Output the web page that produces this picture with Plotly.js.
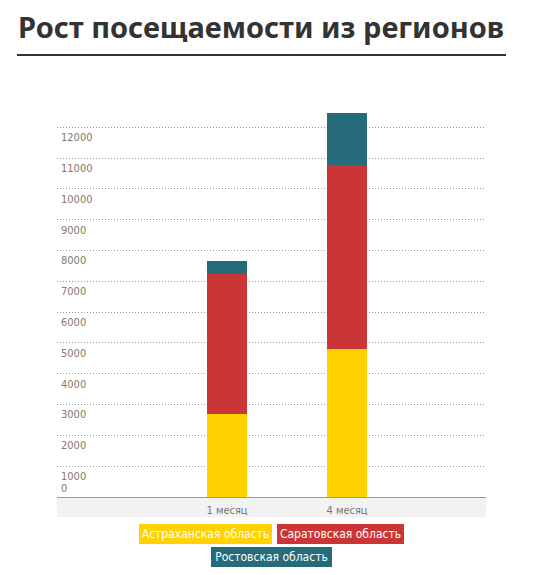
<!DOCTYPE html>
<html>
<head>
<meta charset="utf-8">
<script src="https://cdn.plot.ly/plotly-3.0.1.min.js"></script>
<style>html,body{margin:0;padding:0;background:#fff;}</style>
</head>
<body>
<div id="chart" style="width:544px;height:575px;"></div>
<script>
const categories = ["1 месяц", "4 месяц"];
const seriesNames = ["Астраханская область", "Саратовская область", "Ростовская область"];
const astrakhan = [2700, 4810];
const saratov = [4530, 5970];
const rostov = [430, 1690];
const yTicks = [1000, 2000, 3000, 4000, 5000, 6000, 7000, 8000, 9000, 10000, 11000, 12000];
const titleText = "Рост посещаемости из регионов";

const colors = ["#FFD200", "#CC3535", "#266B7A"];
const values = [astrakhan, saratov, rostov];

const traces = values.map((v, i) => ({
  type: "bar",
  x: categories,
  y: v,
  name: seriesNames[i],
  marker: {color: colors[i]},
  hoverinfo: "none"
}));

const font = "'DejaVu Sans Condensed', 'Liberation Sans Narrow', sans-serif";
const legendPos = [
  {x: 0.347, y: -0.0932, w: 133},
  {x: 0.660, y: -0.0932, w: 127},
  {x: 0.5003, y: -0.150, w: 121}
];
const annotations = seriesNames.map((n, i) => ({
  xref: "paper", yref: "paper",
  x: legendPos[i].x, y: legendPos[i].y,
  xanchor: "center", yanchor: "middle",
  text: n, showarrow: false,
  bgcolor: colors[i], borderpad: 0, borderwidth: 0,
  width: legendPos[i].w, height: 20,
  font: {family: font, size: 12, color: "#fff"}
}));

const layout = {
  width: 544, height: 575,
  margin: {l: 57, r: 58, t: 100, b: 78},
  paper_bgcolor: "#fff", plot_bgcolor: "#fff",
  barmode: "stack",
  bargap: 0.667,
  showlegend: false,
  title: {
    text: "<b>" + titleText + "</b>",
    xref: "container", yref: "container",
    x: 18/544, xanchor: "left",
    y: 1 - 28/575, yanchor: "middle",
    font: {family: "'Noto Sans', sans-serif", size: 29, color: "#333"}
  },
  xaxis: {
    type: "category",
    range: [-1.417, 2.158],
    showgrid: false,
    showline: true, linecolor: "#999", linewidth: 1,
    ticks: "",
    tickfont: {family: font, size: 11, color: "#777"},
    ticklabelstandoff: 3,
    zeroline: false,
    fixedrange: true
  },
  yaxis: {
    range: [0, 12885],
    tickvals: yTicks,
    ticktext: yTicks.map(String),
    ticklabelposition: "inside",
    ticklabelshift: 10,
    ticklabelstandoff: 1,
    showgrid: true, gridcolor: "#999", griddash: "1px,2px", gridwidth: 1,
    zeroline: false,
    showline: false,
    ticks: "",
    tickfont: {family: font, size: 11, color: "#85796a"},
    fixedrange: true
  },
  yaxis2: {
    overlaying: "y",
    side: "left",
    range: [0, 12885],
    tickvals: [0],
    ticktext: ["0"],
    ticklabelposition: "inside",
    ticklabeloverflow: "allow",
    ticklabelshift: -9,
    ticklabelstandoff: 1,
    showgrid: false, zeroline: false, showline: false, ticks: "",
    tickfont: {family: font, size: 11, color: "#85796a"},
    fixedrange: true
  },
  shapes: [
    {type: "rect", xref: "paper", yref: "paper", x0: 0, x1: 1, y0: -20/397, y1: 0,
     fillcolor: "#f2f2f2", line: {width: 0}, layer: "below"},
    {type: "line", xref: "paper", yref: "paper", x0: -40/429, x1: 449/429, y0: 442/397, y1: 442/397,
     line: {color: "#333", width: 2}}
  ],
  annotations: annotations
};

traces.push({type: "scatter", x: [categories[0]], y: [0], yaxis: "y2", mode: "markers",
  marker: {opacity: 0}, hoverinfo: "none", showlegend: false});

Plotly.newPlot("chart", traces, layout, {displayModeBar: false, staticPlot: true});
</script>
</body>
</html>
